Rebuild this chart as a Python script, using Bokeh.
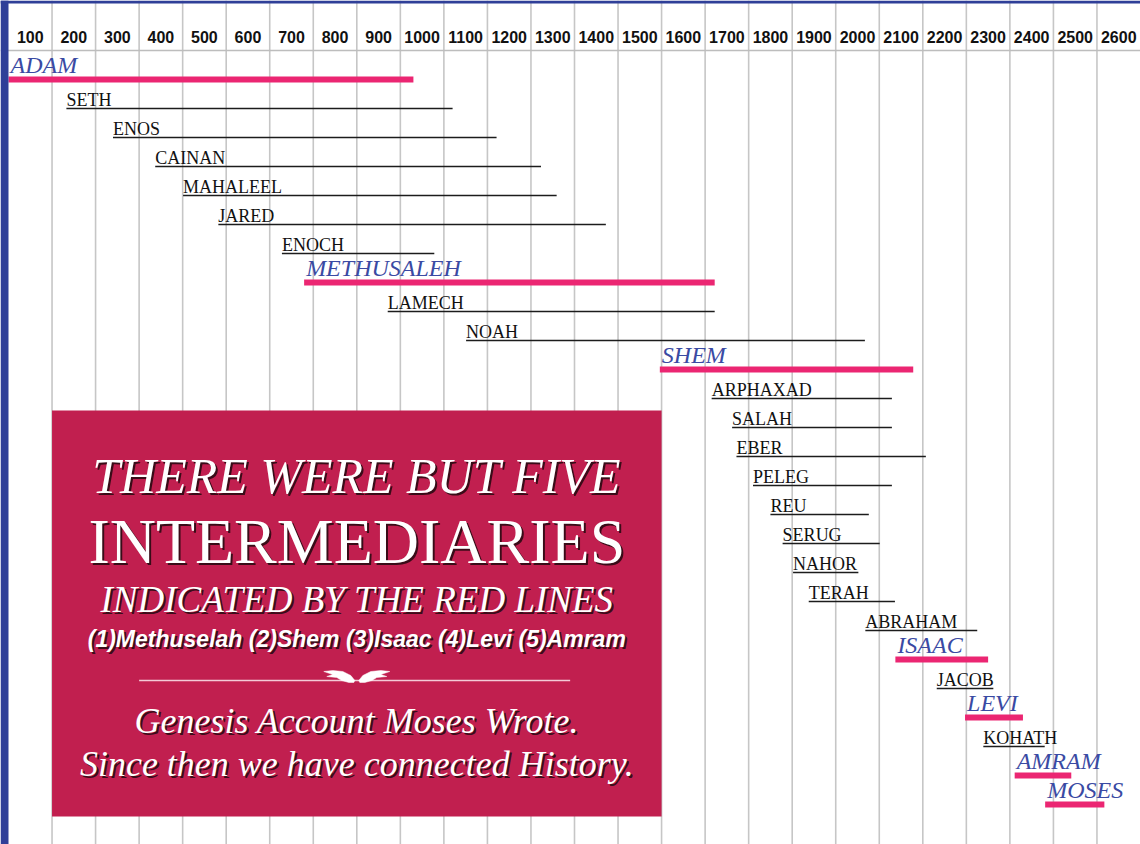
from bokeh.plotting import figure
from bokeh.models import Range1d, ColumnDataSource
from bokeh.core.properties import value
from bokeh.embed import file_html
from bokeh.resources import INLINE

# ---------------- data (years after creation) ----------------
names = ["ADAM", "SETH", "ENOS", "CAINAN", "MAHALEEL", "JARED", "ENOCH",
         "METHUSALEH", "LAMECH", "NOAH", "SHEM", "ARPHAXAD", "SALAH", "EBER",
         "PELEG", "REU", "SERUG", "NAHOR", "TERAH", "ABRAHAM", "ISAAC",
         "JACOB", "LEVI", "KOHATH", "AMRAM", "MOSES"]
born = [0, 133, 240, 337, 401, 482, 628, 679, 871, 1051, 1496, 1615, 1662,
        1672, 1710, 1750, 1778, 1802, 1838, 1968, 2037, 2132, 2197, 2239,
        2311, 2381]
died = [930, 1020, 1121, 1223, 1259, 1372, 978, 1622, 1622, 1967, 2078, 2029,
        2029, 2107, 2029, 1976, 2001, 1952, 2036, 2225, 2250, 2262, 2330, 2380,
        2441, 2517]
red_line_people = ["ADAM", "METHUSALEH", "SHEM", "ISAAC", "LEVI", "AMRAM", "MOSES"]
century_labels = ["100", "200", "300", "400", "500", "600", "700", "800", "900",
                  "1000", "1100", "1200", "1300", "1400", "1500", "1600", "1700",
                  "1800", "1900", "2000", "2100", "2200", "2300", "2400", "2500",
                  "2600"]

box_lines = ["THERE WERE BUT FIVE", "INTERMEDIARIES", "INDICATED BY THE RED LINES",
             "(1)Methuselah (2)Shem (3)Isaac (4)Levi (5)Amram",
             "Genesis Account Moses Wrote.", "Since then we have connected History."]

# ---------------- layout ----------------
W, H = 1140, 844
BORDER = 8
PX_PER_YEAR = (W - BORDER) / 2600.0
X0 = -BORDER / PX_PER_YEAR
ROW_PX = 29.0
ROW0_PX = 79.0
Y_TOP = -ROW0_PX / ROW_PX
Y_BOT = (H - ROW0_PX) / ROW_PX


def ry(fig_y):
    return (fig_y - ROW0_PX) / ROW_PX


BLUE = "#2f3f98"
LABEL_BLUE = "#3a4aa3"
RED = "#eb2672"
BOX = "#c11f4f"
GRID = "#c6c6c6"

p = figure(width=W, height=H, x_range=Range1d(X0, 2600), y_range=Range1d(Y_BOT, Y_TOP),
           output_backend="svg", toolbar_location=None, x_axis_type=None,
           y_axis_type=None, min_border=0, outline_line_color=None,
           background_fill_color="white", border_fill_color="white")

# vertical century grid
grid_years = [100 * (i + 1) for i in range(len(century_labels) - 1)]
p.segment(x0=grid_years, x1=grid_years, y0=[Y_TOP] * len(grid_years),
          y1=[Y_BOT] * len(grid_years), line_color=GRID, line_width=1.6)
# header separator
p.segment(x0=[X0], x1=[2600], y0=[ry(50)], y1=[ry(50)], line_color="#bdbdbd", line_width=1.5)

# header labels
p.text(x=[100 * i + 50 for i in range(len(century_labels))], y=[ry(36)] * len(century_labels),
       text=century_labels, text_align="center", text_baseline="middle",
       text_font=value("Liberation Sans"), text_font_style="bold",
       text_font_size="16px", text_color="#111111")

# people
rows = list(range(len(names)))
is_red = [n in red_line_people for n in names]
reg = ColumnDataSource(dict(
    name=[n for n, r in zip(names, is_red) if not r],
    b=[v for v, r in zip(born, is_red) if not r],
    d=[v for v, r in zip(died, is_red) if not r],
    y=[v for v, r in zip(rows, is_red) if not r]))
hil = ColumnDataSource(dict(
    name=[n for n, r in zip(names, is_red) if r],
    b=[v for v, r in zip(born, is_red) if r],
    d=[v for v, r in zip(died, is_red) if r],
    y=[v for v, r in zip(rows, is_red) if r]))

p.segment(x0="b", x1="d", y0="y", y1="y", source=reg, line_color="#1c1c1c", line_width=1.7)
p.segment(x0="b", x1="d", y0="y", y1="y", source=hil, line_color=RED, line_width=6,
          line_cap="butt")
p.text(x="b", y="y", text="name", source=reg, text_align="left",
       text_baseline="middle", y_offset=-9, text_font=value("Liberation Serif"),
       text_font_size="18px", text_color="#111111")
p.text(x="b", y="y", text="name", source=hil, text_align="left", x_offset=2,
       text_baseline="middle", y_offset=-15, text_font=value("Liberation Serif"),
       text_font_style="italic", text_font_size="24px", text_color=LABEL_BLUE)

# borders
p.quad(left=[X0], right=[0], top=[Y_TOP], bottom=[Y_BOT], fill_color=BLUE, line_color=None)
p.quad(left=[X0], right=[2600], top=[Y_TOP], bottom=[Y_TOP + 3 / ROW_PX],
       fill_color=BLUE, line_color=None)

# red box
BOX_L, BOX_R = 100, 1500
p.quad(left=[BOX_L], right=[BOX_R], top=[ry(410)], bottom=[ry(816)], fill_color=BOX,
       line_color=None)
CX = (BOX_L + BOX_R) / 2

specs = [
    (box_lines[0], ry(475), "50px", "Liberation Serif", "italic"),
    (box_lines[1], ry(541), "64px", "Liberation Serif", "normal"),
    (box_lines[2], ry(599), "37px", "Liberation Serif", "italic"),
    (box_lines[3], ry(638), "23px", "Liberation Sans", "bold italic"),
    (box_lines[4], ry(720), "36px", "Liberation Serif", "italic"),
    (box_lines[5], ry(763), "36px", "Liberation Serif", "italic"),
]
for txt, yy, size, font, style in specs:
    p.text(x=[CX], y=[yy], text=[txt], x_offset=2, y_offset=2, text_align="center",
           text_baseline="middle", text_font=value(font), text_font_style=style,
           text_font_size=size, text_color="#2a0a12", text_alpha=0.9)
    p.text(x=[CX], y=[yy], text=[txt], text_align="center", text_baseline="middle",
           text_font=value(font), text_font_style=style, text_font_size=size,
           text_color="white")

# divider with ornament
p.segment(x0=[300], x1=[1290], y0=[ry(680)], y1=[ry(680)], line_color="#f4c9d6",
          line_width=1.5)
wing = [(2, 3), (6, -2), (14, -6), (24, -7), (33, -6), (24, -3), (30, -1), (20, 0),
        (15, 3), (8, 5), (3, 5)]
ocy = 677.0
for sgn in (1, -1):
    xs = [CX + sgn * dx / PX_PER_YEAR for dx, dy in wing]
    ys = [ry(ocy + dy) for dx, dy in wing]
    p.patch(xs, ys, fill_color="white", line_color="white", line_width=0.5)

open("out.html", "w").write(file_html(p, INLINE))
